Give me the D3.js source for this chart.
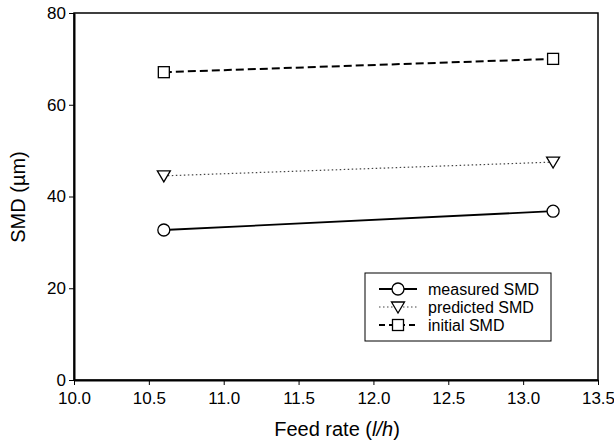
<!DOCTYPE html>
<html><head><meta charset="utf-8">
<script src="https://cdn.jsdelivr.net/npm/d3@7"></script>
<style>body{margin:0;background:#fff}svg{display:block}text{font-family:"Liberation Sans",Arial,sans-serif;fill:#000}</style>
</head><body><svg id="c" width="614" height="441"></svg>
<script>
const feedRate = [10.6, 13.2];
const measuredSMD = [32.7, 36.8];
const predictedSMD = [44.5, 47.5];
const initialSMD = [67.1, 70.0];
const xTicks = [10.0, 10.5, 11.0, 11.5, 12.0, 12.5, 13.0, 13.5];
const yTicks = [0, 20, 40, 60, 80];
const seriesNames = ["measured SMD", "predicted SMD", "initial SMD"];

const svg = d3.select("#c");
const m = {l:74, r:598, t:13, b:380};
const x = d3.scaleLinear().domain([10, 13.5]).range([m.l, m.r]);
const y = d3.scaleLinear().domain([0, 80]).range([m.b, m.t]);

svg.append("rect").attr("x", m.l).attr("y", m.t).attr("width", m.r-m.l).attr("height", m.b-m.t)
  .attr("fill","none").attr("stroke","#000").attr("stroke-width",1.5);

const xa = svg.append("g").attr("transform",`translate(0,${m.b})`)
  .call(d3.axisBottom(x).tickValues(xTicks).tickFormat(d3.format(".1f")).tickSize(5).tickSizeOuter(0));
const ya = svg.append("g").attr("transform",`translate(${m.l},0)`)
  .call(d3.axisLeft(y).tickValues(yTicks).tickSize(5).tickSizeOuter(0));
[xa, ya].forEach(a => {
  a.select(".domain").attr("stroke","#000").attr("stroke-width",2);
  a.selectAll(".tick line").attr("stroke","#000").attr("stroke-width",1);
  a.selectAll("text").style("font-size","17px").attr("fill","#000");
});
xa.selectAll("text").attr("dy","0.71em").attr("y",12);
ya.selectAll("text").attr("x",-8);

svg.append("text").attr("x", 337).attr("y", 436).attr("text-anchor","middle").style("font-size","20px")
  .html('Feed rate (<tspan font-style="italic">l/h</tspan>)');
svg.append("text").attr("transform","translate(25,197) rotate(-90)").attr("text-anchor","middle")
  .style("font-size","20px").text("SMD (\u00b5m)");

const line = d3.line().x((d,i)=>x(feedRate[i])).y(d=>y(d));
const styles = [
  {data: measuredSMD, dash:null, w:1.8, col:"#000", sym:"circle"},
  {data: predictedSMD, dash:"1.5,2.5", w:1.2, col:"#444", sym:"tri"},
  {data: initialSMD, dash:"8,4", w:2, col:"#000", sym:"square"}
];
function drawSym(g, sym, cx, cy){
  if(sym==="circle") g.append("circle").attr("cx",cx).attr("cy",cy).attr("r",6);
  else if(sym==="square") g.append("rect").attr("x",cx-5.5).attr("y",cy-5.5).attr("width",11).attr("height",11);
  else g.append("path").attr("d",`M${cx-6.5},${cy-5}L${cx+6.5},${cy-5}L${cx},${cy+6}Z`);
  g.selectAll("*").attr("fill","#fff").attr("stroke","#000").attr("stroke-width",1.3);
}
styles.forEach(s => {
  svg.append("path").attr("d", line(s.data)).attr("fill","none").attr("stroke",s.col)
    .attr("stroke-width",s.w).attr("stroke-dasharray",s.dash);
  s.data.forEach((v,i)=>{ drawSym(svg.append("g"), s.sym, x(feedRate[i]), y(v)); });
});

const lg = svg.append("g");
lg.append("rect").attr("x",365).attr("y",273).attr("width",186).attr("height",68)
  .attr("fill","#fff").attr("stroke","#000").attr("stroke-width",1);
const rowY = [289, 307, 325];
styles.forEach((s,i)=>{
  lg.append("line").attr("x1",379).attr("x2",417).attr("y1",rowY[i]).attr("y2",rowY[i])
    .attr("stroke",s.col).attr("stroke-width",s.w).attr("stroke-dasharray", s.dash ? (i===2?"6,4":s.dash) : null);
  drawSym(lg.append("g"), s.sym, 398, rowY[i]);
  lg.append("text").attr("x",428).attr("y",rowY[i]).attr("dy","0.35em").style("font-size","16px").text(seriesNames[i]);
});
</script></body></html>
